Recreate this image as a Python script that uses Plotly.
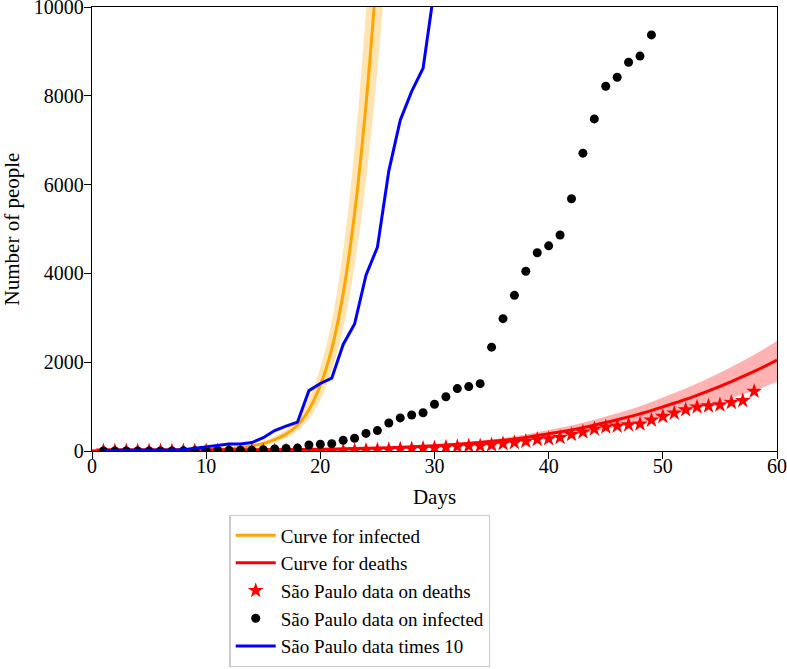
import plotly.graph_objects as go

# ---- data ----
days_data = list(range(1, 50))
infected_data = [1, 1, 1, 2, 2, 2, 2, 3, 6, 10, 13, 16, 16, 19, 30, 46, 56, 65, 136, 152,
                 164, 240, 286, 396, 459, 631, 745, 810, 862, 1052, 1223, 1406, 1451, 1517,
                 2339, 2981, 3506, 4048, 4466, 4620, 4866, 5682, 6708, 7480, 8216, 8419,
                 8755, 8895, 9371]
times10_values = [10 * v for v in infected_data]  # "São Paulo data times 10"

days_deaths = list(range(1, 59))
deaths_data = [0] * 20 + [1, 4, 9, 15, 22, 30, 40, 48, 58, 68, 84, 98, 113, 113, 136, 164,
                          188, 219, 260, 275, 304, 371, 428, 496, 540, 560, 588, 608, 695,
                          778, 853, 928, 991, 1015, 1037, 1093, 1134, 1345]

curve_inf_days = [0, 2, 4, 6, 8, 10, 11, 12, 13, 14, 15, 16, 17, 18, 19, 20, 21, 22, 23, 24, 25, 26]
curve_inf_mid = [1, 2, 4, 7, 13, 25, 36, 52, 78, 115, 170, 255, 380, 580, 930, 1480, 2300,
                 3550, 5350, 7800, 11000, 15000]
curve_inf_up = [1, 3, 5, 9, 17, 32, 46, 66, 99, 146, 216, 324, 483, 737, 1181, 1880, 2921,
                4509, 6795, 9906, 13970, 19050]
curve_inf_lo = [1, 2, 3, 5, 10, 20, 28, 41, 61, 90, 133, 199, 296, 452, 725, 1154, 1794,
                2769, 4173, 6084, 8580, 11700]

curve_d_days = [0, 5, 10, 15, 20, 22, 24, 26, 28, 30, 32, 34, 36, 38, 40, 42, 44, 46, 48, 50,
                52, 54, 56, 58, 60]
curve_d_mid = [2, 5, 10, 20, 38, 48, 60, 76, 95, 120, 152, 192, 242, 307, 390, 476, 581, 703,
               835, 995, 1161, 1354, 1564, 1791, 2050]
curve_d_up = [2, 6, 12, 24, 46, 58, 73, 92, 115, 145, 184, 232, 293, 371, 472, 576, 703, 851,
              1010, 1204, 1405, 1638, 1892, 2167, 2480]
curve_d_lo = [2, 4, 8, 15, 29, 36, 46, 58, 72, 91, 116, 146, 184, 233, 296, 362, 442, 534,
              635, 756, 882, 1029, 1189, 1361, 1558]

x_ticks = [0, 10, 20, 30, 40, 50, 60]
x_tick_labels = ["0", "10", "20", "30", "40", "50", "60"]
y_ticks = [0, 2000, 4000, 6000, 8000, 10000]
y_tick_labels = ["0", "2000", "4000", "6000", "8000", "10000"]

FONT = "Liberation Serif"

fig = go.Figure()

# confidence bands
fig.add_trace(go.Scatter(x=curve_inf_days, y=curve_inf_lo, mode="lines", line=dict(width=0, shape="spline"),
                         showlegend=False, hoverinfo="skip"))
fig.add_trace(go.Scatter(x=curve_inf_days, y=curve_inf_up, mode="lines", line=dict(width=0, shape="spline"),
                         fill="tonexty", fillcolor="rgba(255,165,0,0.3)", showlegend=False, hoverinfo="skip"))
fig.add_trace(go.Scatter(x=curve_d_days, y=curve_d_lo, mode="lines", line=dict(width=0, shape="spline"),
                         showlegend=False, hoverinfo="skip"))
fig.add_trace(go.Scatter(x=curve_d_days, y=curve_d_up, mode="lines", line=dict(width=0, shape="spline"),
                         fill="tonexty", fillcolor="rgba(255,0,0,0.3)", showlegend=False, hoverinfo="skip"))

# curves
fig.add_trace(go.Scatter(x=curve_inf_days, y=curve_inf_mid, mode="lines", name="Curve for infected",
                         line=dict(color="#FFA500", width=3, shape="spline")))
fig.add_trace(go.Scatter(x=curve_d_days, y=curve_d_mid, mode="lines", name="Curve for deaths",
                         line=dict(color="#FF0000", width=3, shape="spline")))

# data
fig.add_trace(go.Scatter(x=days_deaths, y=deaths_data, mode="markers", name="São Paulo data on deaths",
                         marker=dict(symbol="star", color="#FF0000", size=12, line=dict(width=0))))
fig.add_trace(go.Scatter(x=days_data, y=infected_data, mode="markers", name="São Paulo data on infected",
                         marker=dict(symbol="circle", color="black", size=9, line=dict(width=0))))
fig.add_trace(go.Scatter(x=days_data, y=times10_values, mode="lines", name="São Paulo data times 10",
                         line=dict(color="#0000FF", width=3)))

axis_common = dict(showgrid=False, zeroline=False, showline=True, linecolor="black", linewidth=1.3,
                   mirror=True, ticks="outside", ticklen=7, tickwidth=1.3, tickcolor="black",
                   automargin=False, ticklabeloverflow="allow",
                   tickfont=dict(family=FONT, size=20, color="black"))

fig.update_layout(
    width=787, height=669,
    margin=dict(l=91.5, r=10, t=7, b=217.5),
    paper_bgcolor="white", plot_bgcolor="white",
    font=dict(family=FONT, size=20, color="black"),
    xaxis=dict(range=[0, 60], tickvals=x_ticks, ticktext=x_tick_labels, ticklabelstandoff=-10,
               title=dict(text="Days", font=dict(family=FONT, size=21), standoff=13), **axis_common),
    yaxis=dict(range=[0, 10000], tickvals=y_ticks, ticktext=y_tick_labels, ticklabelstandoff=-4,
               title=dict(text="Number of people", font=dict(family=FONT, size=21), standoff=27), **axis_common),
    legend=dict(x=0.2006, y=1 - 515 / 669, xref="paper", yref="container",
                xanchor="left", yanchor="top", traceorder="normal",
                bordercolor="#cccccc", borderwidth=1.3, bgcolor="white",
                font=dict(family=FONT, size=19), tracegroupgap=0, itemwidth=40),
    showlegend=True,
)

# remove the default 8px page margin so the figure fills the window exactly
fig.write_html("out.html", config={"displayModeBar": False},
               post_script="document.body.style.margin='0px';")
